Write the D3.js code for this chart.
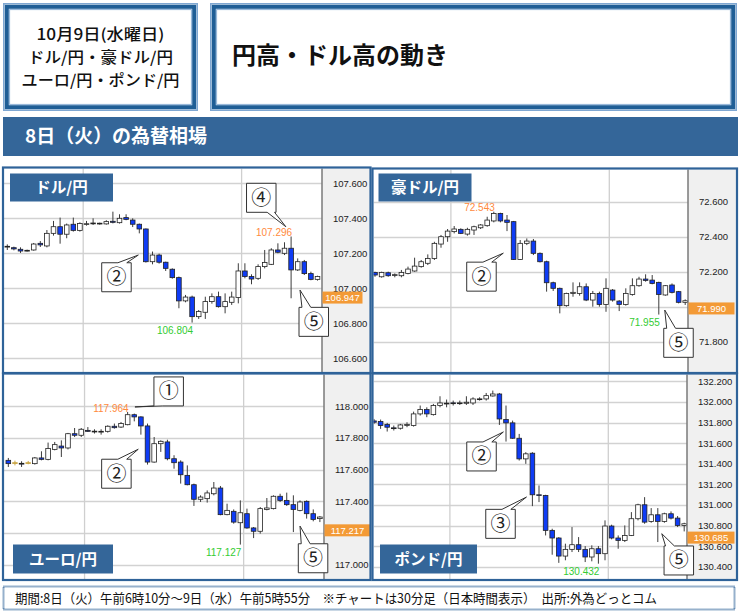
<!DOCTYPE html>
<html><head><meta charset="utf-8">
<script src="https://cdn.jsdelivr.net/npm/d3@7"></script>
<style>html,body{margin:0;padding:0;background:#fff;}</style>
</head><body>
<script>
// ---------- DATA (O,H,L,C) 30-minute candles ----------
const usdjpy = [
[107.236,107.251,107.219,107.240],[107.232,107.238,107.217,107.225],[107.223,107.234,107.202,107.213],[107.213,107.221,107.210,107.217],
[107.219,107.259,107.215,107.253],[107.257,107.270,107.236,107.248],[107.242,107.333,107.234,107.314],[107.314,107.385,107.301,107.352],
[107.352,107.404,107.255,107.309],[107.309,107.370,107.286,107.362],[107.366,107.404,107.324,107.331],[107.331,107.377,107.324,107.370],
[107.368,107.385,107.358,107.369],[107.371,107.400,107.362,107.373],[107.372,107.375,107.364,107.368],[107.368,107.389,107.364,107.381],
[107.383,107.438,107.371,107.377],[107.375,107.423,107.370,107.400],[107.404,107.423,107.389,107.394],[107.390,107.400,107.350,107.366],
[107.366,107.370,107.314,107.339],[107.339,107.342,107.147,107.152],[107.152,107.210,107.137,107.190],[107.190,107.198,107.141,107.149],
[107.149,107.152,107.099,107.114],[107.109,107.114,107.055,107.061],[107.061,107.067,106.886,106.928],[106.928,106.962,106.920,106.950],
[106.950,106.958,106.804,106.838],[106.838,106.876,106.825,106.867],[106.863,106.952,106.825,106.924],[106.924,106.971,106.912,106.952],
[106.952,106.981,106.890,106.895],[106.895,106.971,106.857,106.924],[106.920,106.981,106.905,106.950],[106.947,107.143,106.914,107.099],
[107.099,107.143,107.057,107.067],[107.067,107.080,107.023,107.053],[107.057,107.137,107.048,107.124],[107.124,107.219,107.114,107.147],
[107.137,107.229,107.133,107.219],[107.219,107.257,107.200,107.206],[107.200,107.263,107.190,107.229],[107.229,107.296,106.943,107.105],
[107.105,107.171,107.099,107.152],[107.152,107.162,107.076,107.084],[107.084,107.095,107.046,107.051],[107.051,107.072,107.044,107.067]
];
const audjpy = [
[72.196,72.200,72.171,72.181],[72.171,72.200,72.166,72.196],[72.194,72.200,72.171,72.177],[72.179,72.190,72.168,72.183],
[72.177,72.210,72.168,72.196],[72.190,72.229,72.185,72.215],[72.204,72.280,72.200,72.232],[72.229,72.267,72.223,72.257],
[72.248,72.299,72.238,72.276],[72.276,72.371,72.267,72.362],[72.358,72.410,72.337,72.400],[72.400,72.444,72.371,72.432],
[72.429,72.461,72.419,72.444],[72.442,72.448,72.415,72.419],[72.415,72.451,72.406,72.442],[72.438,72.463,72.410,72.457],
[72.451,72.472,72.444,72.467],[72.463,72.514,72.457,72.495],[72.490,72.543,72.482,72.533],[72.533,72.537,72.482,72.490],
[72.495,72.524,72.432,72.482],[72.486,72.490,72.267,72.270],[72.270,72.381,72.267,72.362],[72.362,72.390,72.352,72.375],
[72.375,72.387,72.295,72.305],[72.305,72.310,72.253,72.257],[72.257,72.263,72.086,72.137],[72.137,72.143,72.090,72.105],
[72.105,72.109,71.962,72.006],[72.006,72.080,72.000,72.076],[72.076,72.139,72.057,72.082],[72.076,72.139,72.063,72.114],
[72.114,72.133,72.032,72.038],[72.038,72.090,72.000,72.076],[72.076,72.086,72.000,72.013],[72.013,72.162,71.971,72.105],
[72.095,72.101,72.029,72.038],[72.032,72.038,71.975,72.013],[72.013,72.105,72.006,72.076],[72.070,72.162,72.063,72.120],
[72.120,72.171,72.114,72.158],[72.158,72.185,72.143,72.150],[72.152,72.181,72.128,72.133],[72.139,72.143,71.955,72.070],
[72.067,72.124,72.063,72.120],[72.124,72.133,72.076,72.082],[72.086,72.090,72.019,72.025],[72.025,72.042,72.010,72.034]
];
const eurjpy = [
[117.659,117.674,117.617,117.638],[117.644,117.657,117.627,117.644],[117.640,117.653,117.617,117.638],[117.644,117.655,117.634,117.644],
[117.638,117.680,117.632,117.674],[117.674,117.716,117.659,117.665],[117.665,117.771,117.659,117.733],[117.728,117.775,117.722,117.758],
[117.749,117.785,117.680,117.737],[117.737,117.832,117.728,117.827],[117.827,117.863,117.806,117.817],[117.817,117.863,117.806,117.855],
[117.848,117.869,117.838,117.842],[117.843,117.855,117.828,117.842],[117.841,117.855,117.821,117.842],[117.842,117.880,117.834,117.874],
[117.874,117.891,117.859,117.865],[117.869,117.901,117.863,117.891],[117.884,117.964,117.880,117.947],[117.947,117.954,117.905,117.933],
[117.933,117.937,117.821,117.876],[117.876,117.891,117.632,117.648],[117.648,117.806,117.644,117.764],[117.764,117.785,117.712,117.779],
[117.775,117.789,117.659,117.669],[117.669,117.691,117.606,117.644],[117.648,117.659,117.512,117.568],[117.564,117.627,117.501,117.505],
[117.505,117.512,117.371,117.413],[117.413,117.438,117.396,117.427],[117.417,117.469,117.392,117.453],[117.448,117.522,117.438,117.484],
[117.484,117.497,117.312,117.316],[117.316,117.385,117.312,117.343],[117.337,117.349,117.259,117.269],[117.265,117.406,117.127,117.328],
[117.322,117.354,117.227,117.232],[117.232,117.238,117.168,117.211],[117.211,117.364,117.196,117.354],[117.349,117.421,117.343,117.358],
[117.354,117.438,117.349,117.432],[117.432,117.448,117.396,117.406],[117.406,117.455,117.371,117.379],[117.379,117.438,117.206,117.349],
[117.343,117.406,117.337,117.396],[117.400,117.406,117.291,117.322],[117.322,117.349,117.274,117.286],[117.291,117.307,117.269,117.301]
];
const gbpjpy = [
[131.816,131.835,131.787,131.803],[131.810,131.829,131.739,131.771],[131.781,131.797,131.713,131.755],[131.749,131.771,131.723,131.748],
[131.745,131.787,131.732,131.777],[131.771,131.803,131.755,131.781],[131.771,131.906,131.761,131.884],[131.884,131.965,131.868,131.926],
[131.926,131.948,131.852,131.884],[131.877,131.981,131.868,131.965],[131.965,132.055,131.948,131.990],[131.988,132.023,131.948,131.987],
[131.991,132.013,131.965,131.990],[131.990,132.013,131.971,131.991],[131.987,132.055,131.971,131.997],[131.990,132.045,131.971,132.029],
[132.029,132.045,132.013,132.030],[132.029,132.087,132.013,132.061],[132.058,132.110,132.052,132.077],[132.077,132.087,131.777,131.835],
[131.829,131.965,131.616,131.797],[131.797,131.819,131.642,131.648],[131.648,131.690,131.432,131.448],[131.448,131.513,131.400,131.497],
[131.503,131.513,130.990,131.100],[131.100,131.190,131.029,131.097],[131.094,131.100,130.706,130.755],[130.755,130.771,130.519,130.681],
[130.681,130.690,130.440,130.506],[130.506,130.626,130.465,130.571],[130.571,130.787,130.545,130.616],[130.616,130.690,130.545,130.571],
[130.571,130.603,130.448,130.497],[130.497,130.610,130.455,130.577],[130.577,130.603,130.432,130.529],[130.529,130.852,130.465,130.797],
[130.797,130.810,130.668,130.681],[130.681,130.706,130.577,130.658],[130.658,130.803,130.642,130.706],[130.706,130.932,130.700,130.868],
[130.868,131.013,130.852,131.003],[131.003,131.077,130.819,130.835],[130.842,130.971,130.829,130.906],[130.906,130.971,130.642,130.842],
[130.842,130.926,130.829,130.916],[130.916,130.939,130.861,130.874],[130.874,130.894,130.787,130.803],[130.803,130.829,130.745,130.819]
];
const usdTicks = [106.6, 106.8, 107.0, 107.2, 107.4, 107.6];
const audTicks = [71.8, 72.0, 72.2, 72.4, 72.6];
const eurTicks = [117.0, 117.2, 117.4, 117.6, 117.8, 118.0];
const gbpTicks = [130.4, 130.6, 130.8, 131.0, 131.2, 131.4, 131.6, 131.8, 132.0, 132.2];
const pairNames = ["ドル/円", "豪ドル/円", "ユーロ/円", "ポンド/円"];
const lastPrices = [106.947, 71.990, 117.217, 130.685];
const highMarks = [{i:43, v:107.296}, {i:18, v:72.543}, {i:18, v:117.964}, null];
const lowMarks  = [{i:28, v:106.804}, {i:43, v:71.955}, {i:35, v:117.127}, {i:34, v:130.432}];
// callouts: anchor in data space (candle index, price)
const callouts = [
  [{t:"②", i:19.85, p:107.19}, {t:"④", i:42.2, p:107.352}, {t:"⑤", i:44.35, p:106.99}],
  [{t:"②", i:19.44, p:72.306}, {t:"⑤", i:43.9, p:71.981}],
  [{t:"①", i:19.1, p:117.996}, {t:"②", i:19.6, p:117.729}, {t:"⑤", i:44.0, p:117.244}],
  [{t:"②", i:19.6, p:131.709}, {t:"③", i:23.1, p:131.078}, {t:"⑤", i:43.6, p:130.723}]
];
const headerLines = ["10月9日(水曜日)", "ドル/円・豪ドル/円", "ユーロ/円・ポンド/円"];
const titleText = "円高・ドル高の動き";
const bannerText = "8日（火）の為替相場";
const footerText = "期間:8日（火）午前6時10分～9日（水）午前5時55分　※チャートは30分足（日本時間表示）　出所:外為どっとコム";

// ---------- LAYOUT ----------
const JP = "'Noto Sans CJK JP','Noto Sans',sans-serif";
const NUM = "'Liberation Sans',Arial,sans-serif";
const BLUE = "#346699";
const panels = [
  {data:usdjpy, ticks:usdTicks, fx:3, fy:167.5, fw:367.5, fh:205.5, pr:322, band:[4,320.8], yd:[106.6,107.6], yr:[358.3,183.3], pbw:40,
   lbl:[7,6,103,28], co:[{dx:-36.6,dy:7.7,side:"top",a:.55,b:.85},{dx:-39.3,dy:-43.4,side:"bottom",a:.7,b:.95},{dx:-1,dy:17.3,side:"top",a:.1,b:.4}]},
  {data:audjpy, ticks:audTicks, fx:372.5, fy:168.5, fw:364.5, fh:204.5, pr:688, band:[371.7,688.5], yd:[71.8,72.6], yr:[341.7,201.7], pbw:46,
   lbl:[6,5,93,28], co:[{dx:-36.6,dy:9,side:"top",a:.55,b:.85},{dx:-1,dy:18.3,side:"top",a:.1,b:.4}]},
  {data:eurjpy, ticks:eurTicks, fx:3, fy:373.5, fw:367.5, fh:206.5, pr:324, band:[5,323.2], yd:[117,118], yr:[564.7,406.3], pbw:46,
   lbl:[10,171,100,29], co:[{dx:19,dy:-30,side:"bottom",a:0,b:.3},{dx:-36.6,dy:10,side:"top",a:.55,b:.85},{dx:-1.7,dy:17.7,side:"top",a:.1,b:.4}]},
  {data:gbpjpy, ticks:gbpTicks, fx:372.5, fy:373.5, fw:364.5, fh:206.5, pr:687, band:[370.7,687.5], yd:[130.4,132.2], yr:[567,381.3], pbw:47,
   lbl:[7.5,171,97,29], co:[{dx:-36.6,dy:10,side:"top",a:.55,b:.85},{dx:-40.7,dy:12.3,side:"top",a:.55,b:.85},{dx:2.3,dy:12.3,side:"top",a:.05,b:.35}]}
];

const svg = d3.select("body").append("svg").attr("width",740).attr("height",615)
  .style("display","block").style("background","#fff");
const defs = svg.append("defs");

// ---------- HEADER ----------
function tripleBox(x0,y0,x1,y1){
  const g = svg.append("g");
  g.append("rect").attr("x",x0+0.75).attr("y",y0+0.75).attr("width",x1-x0-1.5).attr("height",y1-y0-1.5)
    .attr("fill","none").attr("stroke","#7fa7d2").attr("stroke-width",1.5);
  g.append("rect").attr("x",x0+3.8).attr("y",y0+3.8).attr("width",x1-x0-7.6).attr("height",y1-y0-7.6)
    .attr("fill","none").attr("stroke","#1f5e96").attr("stroke-width",4);
  g.append("rect").attr("x",x0+6.6).attr("y",y0+6.6).attr("width",x1-x0-13.2).attr("height",y1-y0-13.2)
    .attr("fill","#fff").attr("stroke","#8fb2d8").attr("stroke-width",1);
}
tripleBox(3,3,198,111);
tripleBox(210,3,737,111);
const hlW = [128,145,158], hlY = [40,63,86];
headerLines.forEach((t,k)=>{
  svg.append("text").attr("x",100.5).attr("y",hlY[k]).attr("text-anchor","middle")
    .attr("font-family",JP).attr("font-size",15.5).attr("font-weight",500).attr("fill","#111")
    .attr("textLength",hlW[k]).attr("lengthAdjust","spacingAndGlyphs").text(t);
});
svg.append("text").attr("x",232).attr("y",64).attr("font-family",JP).attr("font-size",24).attr("font-weight",700)
  .attr("fill","#111").attr("textLength",216).attr("lengthAdjust","spacingAndGlyphs").text(titleText);

svg.append("rect").attr("x",3).attr("y",117).attr("width",735).attr("height",39).attr("fill",BLUE);
svg.append("text").attr("x",25).attr("y",143).attr("font-family",JP).attr("font-size",19).attr("font-weight",700)
  .attr("fill","#fff").attr("textLength",182).attr("lengthAdjust","spacingAndGlyphs").text(bannerText);

// ---------- PANELS ----------
const fmt = d3.format(".3f");
panels.forEach((P,pi)=>{
  const g = svg.append("g");
  const plotL = P.fx+1, plotT = P.fy+1, plotB = P.fy+P.fh-1, frameR = P.fx+P.fw;
  const x = d3.scaleBand().domain(d3.range(P.data.length)).range(P.band).padding(0);
  const xi = i => x(0) + x.bandwidth()/2 + i*x.step();
  const y = d3.scaleLinear().domain(P.yd).range(P.yr);
  const bw = x.bandwidth()*0.7;
  const cid = "clip"+pi;
  defs.append("clipPath").attr("id",cid).append("rect")
    .attr("x",plotL).attr("y",plotT).attr("width",P.pr-plotL).attr("height",plotB-plotT);

  g.append("rect").attr("x",plotL).attr("y",plotT).attr("width",P.pr-plotL).attr("height",plotB-plotT).attr("fill","#fff");
  const pg = g.append("g").attr("clip-path",`url(#${cid})`);
  // grid
  pg.selectAll("line.h").data(P.ticks).join("line")
    .attr("x1",plotL).attr("x2",P.pr).attr("y1",d=>Math.round(y(d))+0.5).attr("y2",d=>Math.round(y(d))+0.5)
    .attr("stroke","#d2d2d2").attr("stroke-width",1.3);
  pg.selectAll("line.v").data([12,36]).join("line")
    .attr("x1",d=>x(d)).attr("x2",d=>x(d)).attr("y1",plotT).attr("y2",plotB)
    .attr("stroke","#cfcfcf").attr("stroke-width",1.3);
  // candles
  const c = pg.selectAll("g.c").data(P.data).join("g");
  c.append("line")
    .attr("x1",(d,i)=>xi(i)).attr("x2",(d,i)=>xi(i))
    .attr("y1",d=>y(d[1])).attr("y2",d=>y(d[2]))
    .attr("stroke",d=>d[0]===d[3]?"#c9a443":"#3c3c3c").attr("stroke-width",1);
  c.append("rect")
    .attr("x",(d,i)=>xi(i)-bw/2).attr("width",bw)
    .attr("y",d=>y(Math.max(d[0],d[3])))
    .attr("height",d=>Math.max(0.8,Math.abs(y(d[0])-y(d[3]))))
    .attr("fill",d=>d[0]===d[3]?"#c9a443":(d[3]>=d[0]?"#fff":"#0f3cf5"))
    .attr("stroke",d=>d[0]===d[3]?"#c9a443":"#222")
    .attr("stroke-width",0.8);

  // axis area
  const lp = lastPrices[pi];
  g.append("rect").attr("x",P.pr).attr("y",plotT).attr("width",frameR-P.pr).attr("height",plotB-plotT).attr("fill","#f0f0f0");
  g.append("line").attr("x1",P.pr).attr("x2",P.pr).attr("y1",plotT).attr("y2",plotB).attr("stroke","#7a7a7a").attr("stroke-width",1.5);
  // tick labels (those fully hidden under the last-price box are not drawn)
  g.selectAll("text.t").data(P.ticks.filter(t=>Math.abs(y(t)-y(lp))>6)).join("text")
    .attr("x",P.pr+11).attr("y",d=>y(d)+3.3).attr("font-family",NUM).attr("font-size",9.5).attr("fill","#222")
    .text(d=>fmt(d));
  // last price
  g.append("rect").attr("x",P.pr+0.5).attr("y",y(lp)-6).attr("width",P.pbw).attr("height",12).attr("fill","#f39a36");
  g.append("text").attr("x",P.pr+0.5+P.pbw/2).attr("y",y(lp)+3.4).attr("text-anchor","middle")
    .attr("font-family",NUM).attr("font-size",9.5).attr("fill","#fff").text(fmt(lp));

  // high / low labels
  const hm = highMarks[pi], lm = lowMarks[pi];
  if(hm) g.append("text").attr("x",xi(hm.i)+1).attr("y",y(hm.v)-0.5).attr("text-anchor","end")
    .attr("font-family",NUM).attr("font-size",10).attr("fill","#ff8a3d").text(fmt(hm.v));
  if(lm) g.append("text").attr("x",xi(lm.i)+1).attr("y",y(lm.v)+11.5).attr("text-anchor","end")
    .attr("font-family",NUM).attr("font-size",10).attr("fill","#33cc33").text(fmt(lm.v));

  // frame
  g.append("rect").attr("x",P.fx).attr("y",P.fy).attr("width",P.fw).attr("height",P.fh)
    .attr("fill","none").attr("stroke","#2f6399").attr("stroke-width",2.2);

  // pair label
  const L = P.lbl;
  g.append("rect").attr("x",P.fx+L[0]).attr("y",P.fy+L[1]).attr("width",L[2]).attr("height",L[3]).attr("fill",BLUE);
  g.append("text").attr("x",P.fx+L[0]+L[2]/2).attr("y",P.fy+L[1]+L[3]/2+5.5).attr("text-anchor","middle")
    .attr("font-family",JP).attr("font-size",15.5).attr("font-weight",700).attr("fill","#fff").text(pairNames[pi]);

  // callouts
  callouts[pi].forEach((a,k)=>{
    const o = P.co[k];
    const tx = xi(a.i), ty = y(a.p);
    const w = 29.5, h = 29;
    const bx = tx + o.dx, by = ty + o.dy;
    let pts;
    if(o.side==="top"){
      pts = [[bx,by],[bx+o.a*w,by],[tx,ty],[bx+o.b*w,by],[bx+w,by],[bx+w,by+h],[bx,by+h]];
    } else {
      pts = [[bx,by],[bx+w,by],[bx+w,by+h],[bx+o.b*w,by+h],[tx,ty],[bx+o.a*w,by+h],[bx,by+h]];
    }
    g.append("path").attr("d","M"+pts.map(p=>p.join(",")).join("L")+"Z")
      .attr("fill","#fff").attr("stroke","#333").attr("stroke-width",1);
    g.append("text").attr("x",bx+w/2).attr("y",by+h/2+7).attr("text-anchor","middle")
      .attr("font-family",JP).attr("font-size",20).attr("fill","#222").text(a.t);
  });
});

// ---------- FOOTER ----------
svg.append("rect").attr("x",3.5).attr("y",586.5).attr("width",731).attr("height",23)
  .attr("fill","#fff").attr("stroke","#2f6399").attr("stroke-width",2).attr("stroke-dasharray","1,1");
svg.append("text").attr("x",15).attr("y",603).attr("font-family",JP).attr("font-size",13).attr("fill","#111")
  .attr("textLength",642).attr("lengthAdjust","spacingAndGlyphs").text(footerText);
</script>
</body></html>
